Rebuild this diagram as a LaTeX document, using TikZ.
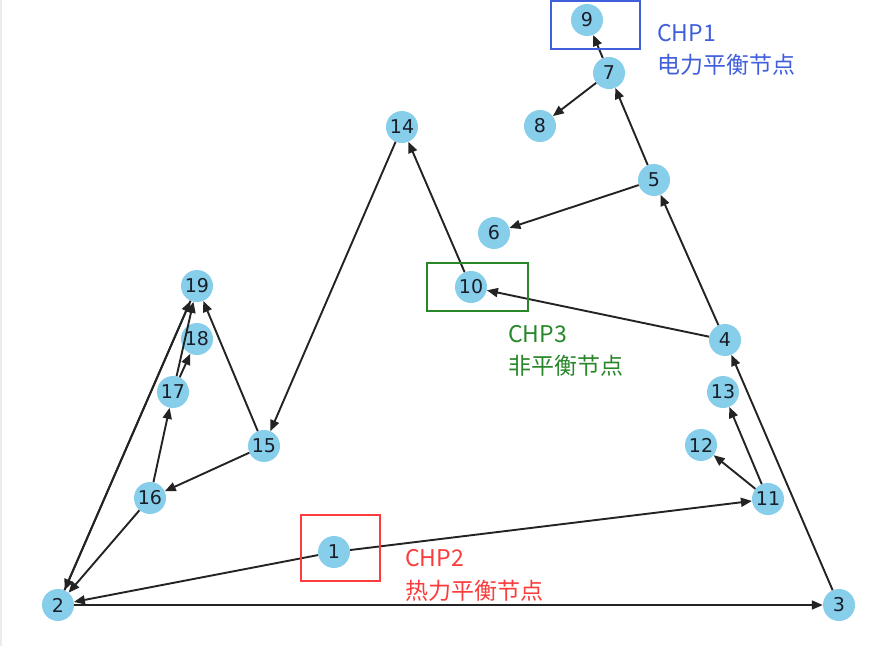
\documentclass[tikz,border=0pt]{standalone}
\usepackage{fontspec}
\setmainfont{DejaVu Sans}
\newfontfamily\cjk{Noto Sans CJK SC}
\usetikzlibrary{arrows.meta}
\definecolor{skyb}{RGB}{135,206,235}
\definecolor{numtext}{RGB}{25,30,40}
\definecolor{edgec}{RGB}{35,35,35}
\definecolor{chpblue}{RGB}{65,95,220}
\definecolor{chpgreen}{RGB}{40,135,40}
\definecolor{chpred}{RGB}{250,60,60}
\begin{document}
\begin{tikzpicture}[x=1pt,y=-1pt,
  nd/.style={circle,fill=skyb,minimum size=32pt,inner sep=0pt,text=numtext,font=\fontsize{19}{19}\selectfont},
  ed/.style={-{Triangle[length=11pt,width=9pt]},line width=1.9pt,draw=edgec},
  hl/.style={draw=#1,line width=2pt},
  lab/.style={anchor=west,inner sep=0pt,text=#1,font=\cjk\fontsize{23}{23}\selectfont}]
\useasboundingbox (0,0) rectangle (883,646);
\fill[white] (0,0) rectangle (883,646);
\fill[gray!15] (0,0) rectangle (2.2,646);
% nodes
\node[nd] (n9) at (587,20) {9};
\node[nd] (n7) at (609,73) {7};
\node[nd] (n8) at (540,126) {8};
\node[nd] (n14) at (402,127) {14};
\node[nd] (n5) at (654,180) {5};
\node[nd] (n6) at (494,233) {6};
\node[nd] (n10) at (471,287) {10};
\node[nd] (n19) at (197,286) {19};
\node[nd] (n18) at (197,339) {18};
\node[nd] (n4) at (725,340) {4};
\node[nd] (n17) at (173,392) {17};
\node[nd] (n13) at (723,392) {13};
\node[nd] (n12) at (701,445) {12};
\node[nd] (n15) at (264,446) {15};
\node[nd] (n16) at (150,498) {16};
\node[nd] (n11) at (768,499) {11};
\node[nd] (n1) at (334,552) {1};
\node[nd] (n2) at (58,605) {2};
\node[nd] (n3) at (839,605) {3};
% edges
\draw[ed] (n1) -- (n2);
\draw[ed] (n1) -- (n11);
\draw[ed] (n2) -- (n3);
\draw[ed] (n2) -- (n19);
\draw[ed] (n19) -- (n2);
\draw[ed] (n3) -- (n4);
\draw[ed] (n4) -- (n5);
\draw[ed] (n4) -- (n10);
\draw[ed] (n5) -- (n6);
\draw[ed] (n5) -- (n7);
\draw[ed] (n7) -- (n8);
\draw[ed] (n7) -- (n9);
\draw[ed] (n10) -- (n14);
\draw[ed] (n14) -- (n15);
\draw[ed] (n15) -- (n16);
\draw[ed] (n15) -- (n19);
\draw[ed] (n16) -- (n17);
\draw[ed] (n16) -- (n2);
\draw[ed] (n17) -- (n18);
\draw[ed] (n17) -- (n19);
\draw[ed] (n11) -- (n12);
\draw[ed] (n11) -- (n13);
% highlight boxes
\node[hl=chpblue,inner sep=0pt,minimum width=89pt,minimum height=48pt] (b1) at (595.5,25) {};
\node[hl=chpgreen,inner sep=0pt,minimum width=101pt,minimum height=48pt] (b3) at (477.5,287) {};
\node[hl=chpred,inner sep=0pt,minimum width=79pt,minimum height=66pt] (b2) at (340.5,548) {};
% labels
\node[lab=chpblue] (t1a) at (657,33) {CHP1};
\node[lab=chpblue] (t1b) at (657,65) {电力平衡节点};
\node[lab=chpgreen] (t3a) at (508,334) {CHP3};
\node[lab=chpgreen] (t3b) at (508,366) {非平衡节点};
\node[lab=chpred] (t2a) at (405,558) {CHP2};
\node[lab=chpred] (t2b) at (405,591) {热力平衡节点};
\end{tikzpicture}
\end{document}
